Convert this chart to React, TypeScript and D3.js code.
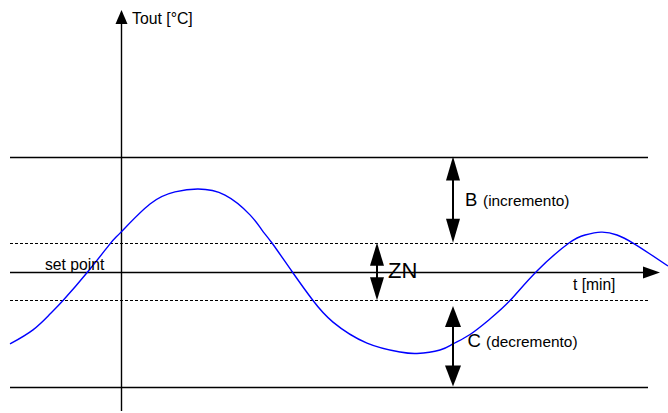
import React from "react";
import * as d3 from "d3";

const W = 668;
const H = 413;

// Horizontal reference levels (relative to set point, arbitrary units)
const levelNames = ["bandTop", "znUpper", "setPoint", "znLower", "bandBottom"];
const levelValues = [4, 1, 0, -1, -4];
const levelDashed = [false, true, false, true, false];

// Temperature curve (t in minutes, value relative to set point)
const curveT = [-11.1, -8.8, -7.1, -5.8, -3.3, -1.1, 0, 2.9, 5.4, 7.7, 10.4, 12.9, 14.1, 15.1, 17.1, 19.2, 21.2, 24.6, 27.9, 29.6, 31.9, 33.2, 34.9, 36.9, 38.9, 41.6, 44.8, 46.4, 48.0, 49.6, 51.2, 52.9, 54.7];
const curveV = [-2.52, -2.03, -1.48, -1.01, 0, 0.96, 1.37, 2.35, 2.77, 2.87, 2.66, 1.97, 1.44, 0.99, 0, -1.01, -1.76, -2.49, -2.8, -2.85, -2.73, -2.52, -2.19, -1.65, -1.01, 0.02, 0.99, 1.27, 1.37, 1.27, 0.99, 0.61, 0.19];

// Double arrows: [t position, from value, to value]
const arrowNames = ["B", "ZN", "C"];
const arrowT = [33.2, 25.6, 33.2];
const arrowFrom = [4, 1, -1.2];
const arrowTo = [1, -1, -4];

const x = d3.scaleLinear().domain([-11.1, 54.7]).range([10, 668]);
const y = d3.scaleLinear().domain([-4, 4]).range([386.5, 156.5]);

const FONT = "Arial, 'Liberation Sans', Helvetica, sans-serif";

function head(tipX: number, tipY: number, dir: "up" | "down" | "right", len: number, half: number) {
  if (dir === "up") return `M${tipX},${tipY} L${tipX - half},${tipY + len} L${tipX + half},${tipY + len} Z`;
  if (dir === "down") return `M${tipX},${tipY} L${tipX - half},${tipY - len} L${tipX + half},${tipY - len} Z`;
  return `M${tipX},${tipY} L${tipX - len},${tipY - half} L${tipX - len},${tipY + half} Z`;
}

const crisp = (v: number) => Math.round(v) + 0.5;

export default function App() {
  const pts: [number, number][] = curveT.map((t, i) => [x(t), y(curveV[i])]);
  const line = d3.line<[number, number]>().curve(d3.curveNatural)(pts) || "";

  const x0 = crisp(x(0));
  const ySP = crisp(y(0));
  const lineStart = x(-11.1);
  const lineEnd = x(52.7);
  const axisEnd = x(54.7) - 11;

  return (
    <svg width={W} height={H} style={{ position: "fixed", left: 0, top: 0, background: "#fff" }}>
      <rect width={W} height={H} fill="#fff" />
      {levelValues.map((v, i) =>
        levelNames[i] === "setPoint" ? null : (
          <line
            key={levelNames[i]}
            x1={lineStart}
            x2={lineEnd}
            y1={crisp(y(v))}
            y2={crisp(y(v))}
            stroke="#000"
            strokeWidth={levelDashed[i] ? 1.1 : 1.4}
            strokeDasharray={levelDashed[i] ? "3,2" : undefined}
          />
        )
      )}
      {/* set point / time axis */}
      <line x1={lineStart} x2={axisEnd - 14} y1={ySP} y2={ySP} stroke="#000" strokeWidth={1.4} />
      <path d={head(axisEnd + 3, ySP, "right", 17, 6)} fill="#000" />
      {/* vertical axis */}
      <line x1={x0} x2={x0} y1={411} y2={22} stroke="#000" strokeWidth={1.4} />
      <path d={head(x0, 10, "up", 14, 6)} fill="#000" />

      {/* curve */}
      <path d={line} fill="none" stroke="#0000ff" strokeWidth={1.4} />

      {/* double arrows */}
      {arrowNames.map((n, i) => {
        const ax = x(arrowT[i]);
        const yTop = y(arrowFrom[i]);
        const yBot = y(arrowTo[i]);
        const len = n === "ZN" ? 23 : n === "C" ? 21 : 24;
        const half = n === "C" ? 8 : 7;
        return (
          <g key={n}>
            <line x1={ax} x2={ax} y1={yTop + len - 1} y2={yBot - len + 1} stroke="#000" strokeWidth={2} />
            <path d={head(ax, yTop, "up", len, half)} fill="#000" />
            <path d={head(ax, yBot, "down", len, half)} fill="#000" />
          </g>
        );
      })}

      {/* labels */}
      <g fontFamily={FONT} fill="#000">
        <text x={x0 + 10.5} y={23.5} fontSize={15.8}>Tout [°C]</text>
        <text x={45} y={270} fontSize={15.7}>set point</text>
        <text x={573} y={290} fontSize={15.6}>t [min]</text>
        <text x={465} y={206} fontSize={18.5}>B</text>
        <text x={483} y={206} fontSize={15.4}>(incremento)</text>
        <text x={467.5} y={347} fontSize={18.5}>C</text>
        <text x={486} y={347} fontSize={15.4}>(decremento)</text>
        <text x={388} y={278} fontSize={22}>ZN</text>
      </g>
    </svg>
  );
}
